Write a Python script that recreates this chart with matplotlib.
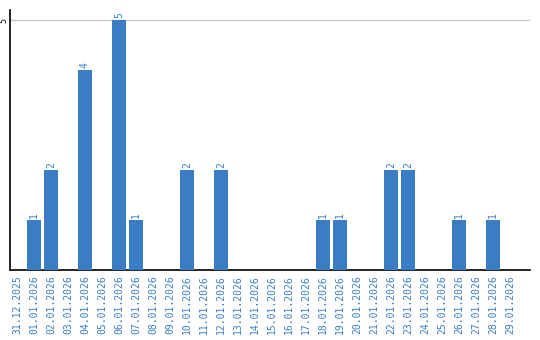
import matplotlib
matplotlib.use("Agg")
import matplotlib.pyplot as plt

dates = ["31.12.2025", "01.01.2026", "02.01.2026", "03.01.2026", "04.01.2026",
         "05.01.2026", "06.01.2026", "07.01.2026", "08.01.2026", "09.01.2026",
         "10.01.2026", "11.01.2026", "12.01.2026", "13.01.2026", "14.01.2026",
         "15.01.2026", "16.01.2026", "17.01.2026", "18.01.2026", "19.01.2026",
         "20.01.2026", "21.01.2026", "22.01.2026", "23.01.2026", "24.01.2026",
         "25.01.2026", "26.01.2026", "27.01.2026", "28.01.2026", "29.01.2026"]
counts = [0, 1, 2, 0, 4, 0, 5, 1, 0, 0, 2, 0, 2, 0, 0, 0, 0, 0, 1, 1,
          0, 0, 2, 2, 0, 0, 1, 0, 1, 0]

blue = "#3b7dc4"

fig = plt.figure(figsize=(5.4, 3.4), dpi=100)
ax = fig.add_axes([10/540, 70/340, 520/540, 260/340])

x = list(range(len(dates)))
ax.bar(x, counts, width=14/17, color=blue, zorder=3)
for i, v in zip(x, counts):
    if v > 0:
        ax.text(i, v + 0.04, str(v), rotation=90, ha="center", va="bottom",
                color=blue, fontsize=7, family="DejaVu Sans Mono")

ax.set_xlim(-7/17, 30.18)
ax.set_ylim(0, 5.2)
ax.axhline(5, color="#c8c8c8", lw=1, zorder=1)

ax.set_yticks([5])
ax.set_yticklabels(["5"], rotation=90, va="center", fontsize=6,
                   family="DejaVu Sans Mono")
ax.tick_params(axis="y", length=0, pad=1)

ax.set_xticks(x)
ax.set_xticklabels(dates, rotation=90, fontsize=7, color=blue,
                   family="DejaVu Sans Mono")
ax.tick_params(axis="x", length=0, pad=4)

for s in ["top", "right"]:
    ax.spines[s].set_visible(False)
ax.spines["left"].set_linewidth(1.2)
ax.spines["bottom"].set_linewidth(1.2)

fig.savefig("out.png", dpi=100)
